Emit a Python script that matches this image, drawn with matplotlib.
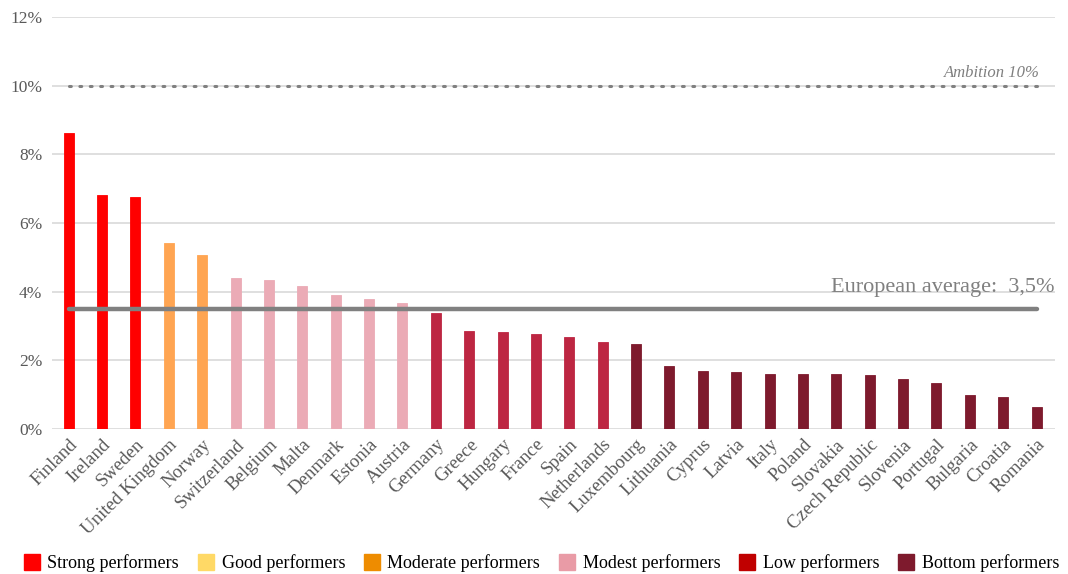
import matplotlib
matplotlib.use("Agg")
import matplotlib.pyplot as plt
from matplotlib.patches import Patch

countries = ["Finland", "Ireland", "Sweden", "United Kingdom", "Norway", "Switzerland",
             "Belgium", "Malta", "Denmark", "Estonia", "Austria", "Germany", "Greece",
             "Hungary", "France", "Spain", "Netherlands", "Luxembourg", "Lithuania",
             "Cyprus", "Latvia", "Italy", "Poland", "Slovakia", "Czech Republic",
             "Slovenia", "Portugal", "Bulgaria", "Croatia", "Romania"]
values = [8.62, 6.83, 6.76, 5.43, 5.07, 4.40, 4.35, 4.16, 3.90, 3.80, 3.66, 3.37, 2.84,
          2.82, 2.76, 2.68, 2.53, 2.47, 1.83, 1.68, 1.66, 1.61, 1.61, 1.59, 1.56,
          1.47, 1.33, 1.00, 0.94, 0.63]
groups = ["Strong"] * 3 + ["Moderate"] * 2 + ["Modest"] * 6 + ["Low"] * 6 + ["Bottom"] * 13

group_names = ["Strong", "Good", "Moderate", "Modest", "Low", "Bottom"]
legend_labels = ["Strong performers", "Good performers", "Moderate performers",
                 "Modest performers", "Low performers", "Bottom performers"]
bar_colors = {"Strong": "#FF0000", "Good": "#FFD966", "Moderate": "#FFA552",
              "Modest": "#EBABB6", "Low": "#BD2642", "Bottom": "#7E1A2D"}
legend_colors = {"Strong": "#FF0000", "Good": "#FFD966", "Moderate": "#EE8C00",
                 "Modest": "#E99BA6", "Low": "#C00000", "Bottom": "#7E1A2D"}

european_average = 3.5
ambition = 10.0
yticks = [0, 2, 4, 6, 8, 10, 12]

plt.rcParams['font.family'] = ['Liberation Serif', 'DejaVu Serif']

fig = plt.figure(figsize=(10.68, 5.74), dpi=100)
ax = fig.add_axes([0.0487, 0.2526, 0.9391, 0.7178])

x = list(range(len(countries)))
cols = [bar_colors[g] for g in groups]
ax.bar(x, values, width=0.3, color=cols, edgecolor=cols, linewidth=0.6, zorder=3)

ax.set_xlim(-0.5, len(countries) - 0.45)
ax.set_ylim(0, 12)
ax.set_yticks(yticks)
ax.set_yticklabels([f"{t}%" for t in yticks], color="#595959", fontsize=12.5)
ax.yaxis.grid(True, color="#D9D9D9", linewidth=1.2, zorder=0)
ax.set_axisbelow(True)
for s in ax.spines.values():
    s.set_visible(False)
ax.tick_params(axis="both", length=0, pad=7)

ax.set_xticks(x)
ax.set_xticklabels(countries, rotation=45, ha="right", rotation_mode="anchor",
                   color="#595959", fontsize=13.5)
ax.tick_params(axis="x", pad=5)

# European average line
ax.plot([x[0], x[-1]], [european_average, european_average], color="#808080",
        linewidth=3.2, solid_capstyle="round", zorder=4)
ax.text(len(countries) - 0.45, european_average + 0.35, "European average:  3,5%",
        ha="right", va="bottom", color="#808080", fontsize=16)

# Ambition line
ax.plot([x[0], x[-1]], [ambition, ambition], color="#808080", linewidth=2.2,
        linestyle=(0, (0.6, 2.8)), dash_capstyle="round", zorder=4)
ax.text(x[-1] + 0.1, ambition + 0.15, "Ambition 10%", ha="right", va="bottom",
        color="#7F7F7F", fontsize=12, style="italic")

handles = [Patch(facecolor=legend_colors[g], edgecolor=legend_colors[g]) for g in group_names]
fig.legend(handles, legend_labels, loc="lower center", bbox_to_anchor=(0.507, -0.025),
           ncol=6, frameon=False, fontsize=13, handlelength=0.9, handleheight=1.0,
           handletextpad=0.4, columnspacing=1.05, labelcolor="#000000")

fig.savefig("out.png", dpi=100)
